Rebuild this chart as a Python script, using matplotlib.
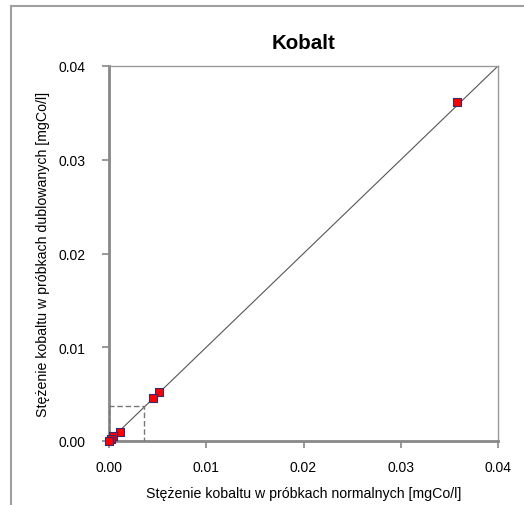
import matplotlib
matplotlib.use("Agg")
import matplotlib.pyplot as plt
from matplotlib.patches import Rectangle

plt.rcParams['font.family'] = ['Liberation Sans', 'DejaVu Sans']

# Data: normal vs duplicate sample concentrations [mgCo/l]
normal = [0.0358, 0.0051, 0.0045, 0.00115, 0.00045, 0.0002, 0.0000]
duplicate = [0.0362, 0.0052, 0.0046, 0.0010, 0.0005, 0.0002, 0.0000]
line_x = [0.0, 0.04]
line_y = [0.0, 0.04]
ticks = [0.00, 0.01, 0.02, 0.03, 0.04]
tick_labels = ["0.00", "0.01", "0.02", "0.03", "0.04"]
zoom_box = (0.0, 0.0, 0.0036, 0.0037)

fig = plt.figure(figsize=(5.24, 5.06), dpi=100)
ax = fig.add_axes([109/524, 64/506, (498-109)/524, (442-67)/506])

ax.plot(line_x, line_y, color='#555555', lw=0.8, zorder=2)
ax.scatter(normal, duplicate, marker='s', s=38, facecolor='#ff0000',
           edgecolor='#3a2a6a', linewidth=0.8, zorder=4, clip_on=False)
ax.add_patch(Rectangle((zoom_box[0], zoom_box[1]), zoom_box[2], zoom_box[3],
                       fill=False, edgecolor='#777777', ls=(0, (4, 2)), lw=1.0, zorder=3))

ax.set_xlim(0, 0.04)
ax.set_ylim(0, 0.04)
ax.set_xticks(ticks)
ax.set_xticklabels(tick_labels)
ax.set_yticks(ticks)
ax.set_yticklabels(tick_labels)
ax.tick_params(direction='out', length=5, width=1.2, color='#888888',
               labelsize=10)
ax.tick_params(axis='x', pad=9)
ax.tick_params(axis='y', pad=12)
for s in ['left', 'bottom']:
    ax.spines[s].set_color('#888888')
    ax.spines[s].set_linewidth(2.0)
for s in ['top', 'right']:
    ax.spines[s].set_color('#999999')
    ax.spines[s].set_linewidth(1.0)

ax.set_title('Kobalt', fontsize=14.8, fontweight='bold', pad=13)
ax.set_xlabel('Stężenie kobaltu w próbkach normalnych [mgCo/l]', fontsize=10.2, labelpad=8)
ax.set_ylabel('Stężenie kobaltu w próbkach dublowanych [mgCo/l]', fontsize=10.2, labelpad=6)

border = Rectangle((11/524, -0.1), 1.2, 1 - 7/506 + 0.1, transform=fig.transFigure,
                   fill=False, edgecolor='#a0a0a0', lw=1.5, clip_on=False)
fig.patches.append(border)

fig.savefig('out.png', dpi=100)
